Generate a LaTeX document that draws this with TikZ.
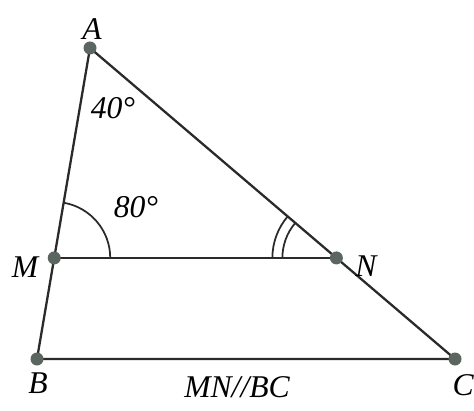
\documentclass[tikz,border=0pt]{standalone}
\usepackage{fontspec}
\setmainfont{Liberation Serif}
\usepackage{tikz}
\usetikzlibrary{calc,angles,quotes}
\definecolor{dotgray}{HTML}{5C6660}
\definecolor{linegray}{HTML}{2A2A2A}

\begin{document}
\begin{tikzpicture}[font=\fontsize{18}{21}\selectfont\itshape,
  side/.style={draw=linegray,line width=1.3pt},
  vertex/.style={circle,fill=dotgray,inner sep=0pt,minimum size=0.26cm}]
            \useasboundingbox (0,0) rectangle (9.48,8.2);
            % Points of the triangle
            \coordinate (A) at (1.80,7.24);
            \coordinate (B) at (0.74,1.02);
            \coordinate (C) at (9.10,1.02);
            \coordinate (M) at ($(A)!0.675!(B)$);
            \coordinate (N) at ($(A)!0.675!(C)$);
            % Sides
            \draw[side] (A) -- (B) -- (C) -- cycle;
            \draw[side] (M) -- (N);
            % Angles
            \pic[draw=linegray, line width=1pt, angle radius=1.12cm] {angle = N--M--A};
            \pic[draw=linegray, line width=1pt, angle radius=1.08cm] {angle = A--N--M};
            \pic[draw=linegray, line width=1pt, angle radius=1.28cm] {angle = A--N--M};
            % Dots
            \foreach \p in {A,B,C,M,N}
                \node[vertex] (dot\p) at (\p) {};
            % Labels
            \node (labA) at (1.84,7.62) {A};
            \node (labB) at (0.76,0.54) {B};
            \node[anchor=east, inner xsep=0pt] (labC) at (9.48,0.50) {C};
            \node (labM) at (0.50,2.86) {M};
            \node (labN) at (7.32,2.88) {N};
            \node (ang40) at (2.26,6.04) {40°};
            \node (ang80) at (2.72,4.06) {80°};
            \node (par) at (4.74,0.46) {MN//BC};
        \end{tikzpicture}
\end{document}
